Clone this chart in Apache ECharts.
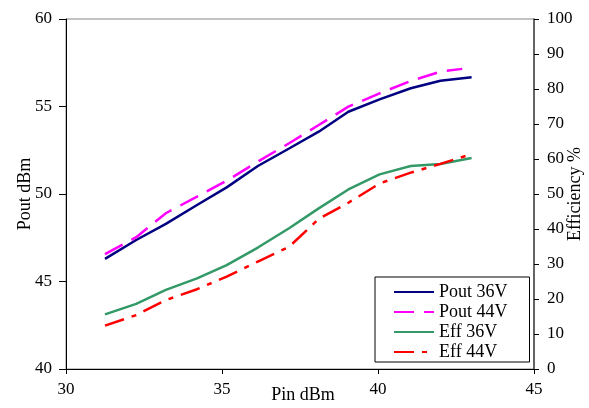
<!DOCTYPE html>
<html><head><meta charset="utf-8">
<script src="https://cdn.jsdelivr.net/npm/echarts@6/dist/echarts.min.js"></script>
<style>html,body{margin:0;padding:0;background:#fff}#c{width:589px;height:408px}</style>
</head><body><div id="c"></div>
<script>
const pin = [31.25, 32.25, 33.2, 34.2, 35.15, 36.15, 37.15, 38.1, 39.05, 40.05, 41.05, 42.0, 43.0];
const pin44 = [31.25, 32.25, 33.2, 34.2, 35.15, 36.15, 37.15, 38.1, 39.05, 40.05, 41.05, 42.0, 42.7];
const pout36 = [46.29, 47.37, 48.29, 49.37, 50.38, 51.6, 52.6, 53.56, 54.7, 55.41, 56.04, 56.47, 56.67];
const pout44 = [46.57, 47.53, 48.9, 49.85, 50.76, 51.85, 52.9, 53.94, 54.99, 55.75, 56.46, 56.99, 57.15];
const eff36 = [15.6, 18.6, 22.6, 25.9, 29.7, 34.7, 40.2, 45.9, 51.3, 55.6, 58.0, 58.6, 60.3];
const eff44 = [12.4, 15.4, 19.7, 22.8, 26.4, 30.7, 34.9, 42.9, 47.5, 53.0, 56.1, 58.6, 61.4];
const names = ['Pout 36V', 'Pout 44V', 'Eff 36V', 'Eff 44V'];

const zip = (xs, ys) => xs.map((x, i) => [x, ys[i]]);
const font = 'Liberation Serif';
const chart = echarts.init(document.getElementById('c'));
chart.setOption({
  animation: false,
  textStyle: { fontFamily: font },
  grid: { left: 66, right: 55, top: 19, bottom: 39, outerBoundsMode: 'none', containLabel: false,
          show: true, borderColor: '#888', borderWidth: 1 },
  legend: {
    data: names, orient: 'vertical', left: 375, top: 277,
    borderColor: '#000', borderWidth: 1, padding: [6, 22, 1, 18],
    itemWidth: 40, itemHeight: 16, itemGap: 2,
    itemStyle: { opacity: 0 },
    textStyle: { fontFamily: font, fontSize: 18, lineHeight: 18, color: '#000' }
  },
  xAxis: {
    type: 'value', min: 30, max: 45, interval: 5,
    name: 'Pin dBm', nameLocation: 'middle', nameGap: 17, nameMoveOverlap: false,
    nameTextStyle: { fontFamily: font, fontSize: 18, color: '#000', padding: [0, 0, 0, 6] },
    axisLine: { lineStyle: { color: '#000', width: 1 } },
    axisTick: { show: true, length: 5, lineStyle: { color: '#000' } },
    axisLabel: { fontFamily: font, fontSize: 17, color: '#000', margin: 12 },
    splitLine: { show: false }
  },
  yAxis: [{
    type: 'value', min: 40, max: 60, interval: 5, position: 'left',
    name: 'Pout dBm', nameLocation: 'middle', nameGap: 32, nameRotate: 90, nameMoveOverlap: false,
    nameTextStyle: { fontFamily: font, fontSize: 18, color: '#000' },
    axisLine: { show: true, lineStyle: { color: '#000', width: 1 } },
    axisTick: { show: true, length: 7, lineStyle: { color: '#000' } },
    axisLabel: { fontFamily: font, fontSize: 17, color: '#000', margin: 14 },
    splitLine: { show: false }
  }, {
    type: 'value', min: 0, max: 100, interval: 10, position: 'right',
    name: 'Efficiency %', nameLocation: 'middle', nameGap: 32, nameRotate: 90, nameMoveOverlap: false,
    nameTextStyle: { fontFamily: font, fontSize: 18, color: '#000' },
    axisLine: { show: true, lineStyle: { color: '#444', width: 1.5 } },
    axisTick: { show: true, length: 5, lineStyle: { color: '#000' } },
    axisLabel: { fontFamily: font, fontSize: 17, color: '#000', margin: 13 },
    splitLine: { show: false }
  }],
  series: [
    { name: names[0], type: 'line', yAxisIndex: 0, data: zip(pin, pout36), symbol: 'none', color: '#000080',
      lineStyle: { width: 2.5, color: '#000080' } },
    { name: names[1], type: 'line', yAxisIndex: 0, data: zip(pin44, pout44), symbol: 'none', color: '#FF00FF',
      lineStyle: { width: 2.5, color: '#FF00FF', type: [20, 10] } },
    { name: names[2], type: 'line', yAxisIndex: 1, data: zip(pin, eff36), symbol: 'none', color: '#339966',
      lineStyle: { width: 2.5, color: '#339966' } },
    { name: names[3], type: 'line', yAxisIndex: 1, data: zip(pin, eff44), symbol: 'none', color: '#FF0000',
      lineStyle: { width: 2.5, color: '#FF0000', type: [20, 8, 5, 8] } }
  ]
});
</script></body></html>
